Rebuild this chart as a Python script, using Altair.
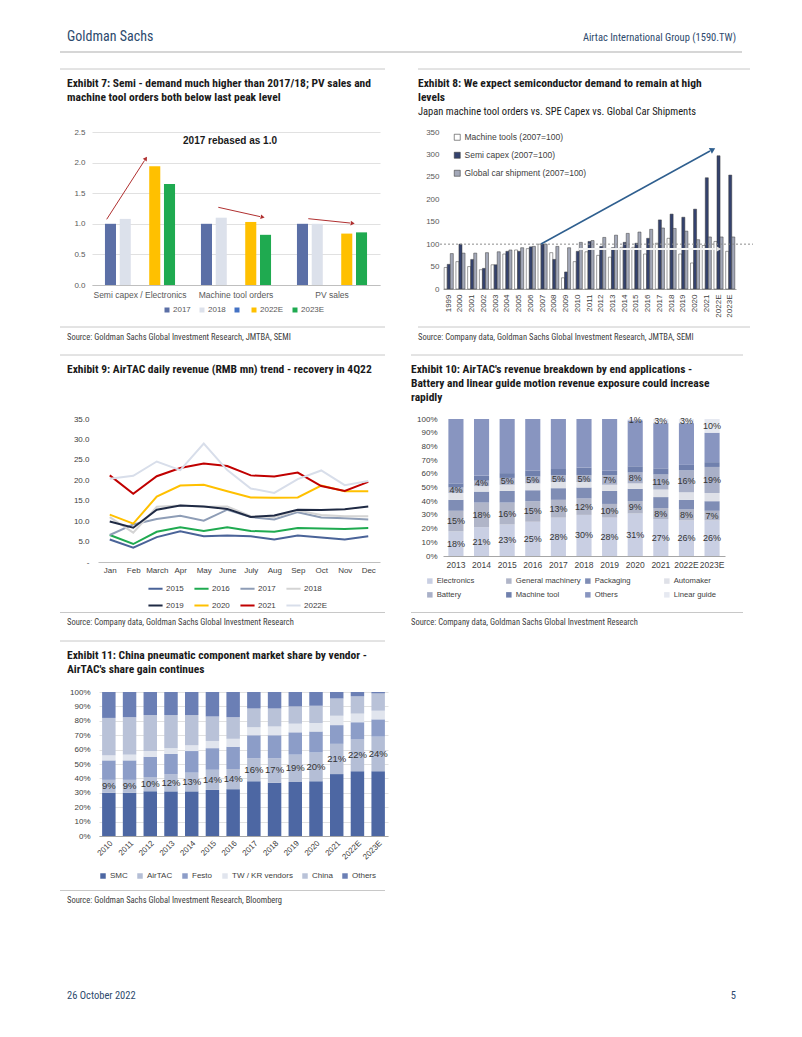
import altair as alt
import pandas as pd

ARIAL = "Liberation Sans, Arial, sans-serif"
NARROW = "Liberation Sans Narrow, Roboto Condensed, Roboto, sans-serif"
HEAD = "#2d4a6d"
INK = "#1a1a1a"
AX = "#595959"
RULE = "#c8c8c8"
SRC = "#404040"

# ---------------- Exhibit 7 data ----------------
e7_groups = ["Semi capex / Electronics", "Machine tool orders", "PV sales"]
e7_series = ["2017", "2018", " ", "2022E", "2023E"]
e7_colors = ["#5b6fa6", "#dce1eb", "#4472c4", "#ffc000", "#1faa50"]
e7_2017 = [1.00, 1.00, 1.00]
e7_2018 = [1.08, 1.10, 1.00]
e7_blank = [0.0, 0.0, 0.0]
e7_2022E = [1.94, 1.03, 0.84]
e7_2023E = [1.65, 0.82, 0.86]

# ---------------- Exhibit 8 data ----------------
e8_years = ["1999", "2000", "2001", "2002", "2003", "2004", "2005", "2006", "2007", "2008",
            "2009", "2010", "2011", "2012", "2013", "2014", "2015", "2016", "2017", "2018",
            "2019", "2020", "2021", "2022E", "2023E"]
e8_series = ["Machine tools (2007=100)", "Semi capex (2007=100)", "Global car shipment (2007=100)"]
e8_colors = ["#ffffff", "#34426e", "#a3a8b8"]
e8_machine = [48, 61, 50, 43, 54, 78, 87, 90, 100, 81, 25, 61, 83, 75, 71, 93, 93, 78, 102, 113, 78, 58, 97, 106, 84]
e8_semi = [55, 100, 66, 46, 54, 84, 84, 94, 100, 66, 38, 84, 106, 95, 92, 104, 102, 113, 154, 167, 160, 178, 248, 297, 254]
e8_car = [79, 80, 80, 81, 83, 87, 92, 95, 100, 95, 92, 104, 108, 115, 120, 124, 127, 133, 136, 135, 129, 110, 116, 116, 116]

# ---------------- Exhibit 9 data ----------------
e9_months = ["Jan", "Feb", "March", "Apr", "May", "June", "July", "Aug", "Sep", "Oct", "Nov", "Dec"]
e9_years = ["2015", "2016", "2017", "2018", "2019", "2020", "2021", "2022E"]
e9_colors = ["#4a6398", "#1faa50", "#8e9db6", "#d4d4d4", "#1f2a44", "#ffc000", "#c00000", "#d8deea"]
e9_2015 = [5.5, 3.5, 6.1, 7.5, 6.3, 6.5, 6.3, 5.5, 6.5, 6.0, 5.5, 6.3]
e9_2016 = [6.6, 4.4, 7.4, 8.5, 7.6, 8.5, 7.6, 7.4, 8.3, 8.2, 8.1, 8.3]
e9_2017 = [6.6, 9.2, 10.5, 11.3, 10.1, 12.8, 11.0, 10.4, 12.2, 10.9, 10.7, 10.4]
e9_2018 = [11.0, 7.2, 13.5, 13.8, 13.5, 13.6, 11.2, 11.0, 12.6, 11.5, 11.2, 11.2]
e9_2019 = [9.9, 8.4, 12.8, 13.8, 13.6, 13.0, 11.0, 11.4, 12.8, 12.7, 12.9, 13.6]
e9_2020 = [11.6, 9.4, 16.0, 18.7, 18.9, 17.3, 15.8, 15.7, 15.8, 18.7, 17.3, 17.3]
e9_2021 = [21.2, 16.7, 21.0, 23.0, 24.1, 23.5, 21.2, 20.9, 21.9, 18.6, 17.4, 19.6]
e9_2022E = [20.4, 21.1, 24.6, 22.5, 29.0, 22.5, 18.0, 16.9, 20.3, 22.4, 18.8, 19.8]

# ---------------- Exhibit 10 data ----------------
e10_years = ["2013", "2014", "2015", "2016", "2017", "2018", "2019", "2020", "2021", "2022E", "2023E"]
e10_cats = ["Electronics", "General machinery", "Packaging", "Automaker",
            "Battery", "Machine tool", "Others", "Linear guide"]
e10_colors = ["#c9cfe3", "#b0b5c8", "#7f8db5", "#dfe1e8", "#a9b0c8", "#7080ad", "#8895c0", "#e6e9f1"]
e10_electronics = [18, 21, 23, 25, 28, 30, 28, 31, 27, 26, 26]
e10_general = [15, 18, 16, 15, 13, 12, 10, 9, 8, 8, 7]
e10_packaging = [8, 8, 8.5, 8, 8.5, 8, 9.5, 9, 8, 7, 7]
e10_automaker = [5, 4, 4.5, 5, 4.5, 4, 4.5, 4, 5.5, 5.5, 6]
e10_battery = [4, 4, 5, 5, 5, 5, 7, 8, 11, 16, 19]
e10_machine = [3, 3.5, 3.5, 4.5, 4.5, 5.5, 3.5, 4.5, 4.5, 4, 3.5]
e10_others = [47, 41.5, 39.5, 37.5, 36.5, 35.5, 37.5, 33.5, 33, 30.5, 21.5]
e10_linear = [0, 0, 0, 0, 0, 0, 0, 1, 3, 3, 10]
e10_labelled = ["Electronics", "General machinery", "Battery", "Linear guide"]

# ---------------- Exhibit 11 data ----------------
e11_years = ["2010", "2011", "2012", "2013", "2014", "2015", "2016", "2017", "2018", "2019",
             "2020", "2021", "2022E", "2023E"]
e11_cats = ["SMC", "AirTAC", "Festo", "TW / KR vendors", "China", "Others"]
e11_colors = ["#4d67a3", "#b4bed6", "#8c9dc8", "#e1e5ee", "#b9c2d8", "#6b7fb5"]
e11_smc = [30, 30, 31, 31, 31, 32, 32.5, 38, 37, 37.5, 38, 43, 45, 45]
e11_airtac = [9, 9, 10, 12, 13, 14, 14, 16, 17, 19, 20, 21, 22, 24]
e11_festo = [13.5, 13.5, 14, 14, 15, 15, 15.5, 16, 16, 15.5, 14.5, 13, 12, 12]
e11_twkr = [3.5, 4, 4, 4, 4, 5, 5.5, 5.5, 6, 6, 6, 6.5, 6, 6]
e11_china = [26, 26, 25, 23, 21, 17, 15, 13, 12.5, 12, 12, 12, 12, 12]
e11_others = [18, 17.5, 16, 16, 16, 17, 17.5, 11.5, 11.5, 10, 9.5, 4.5, 3, 1]

# ---------------- helpers ----------------
ONE = pd.DataFrame({"k": [0]})


def txt(x, y, s, size=9, weight="normal", color=INK, align="left", font=ARIAL):
    return alt.Chart(ONE).mark_text(
        align=align, baseline="middle", fontSize=size, fontWeight=weight, color=color, font=font
    ).encode(x=alt.value(x), y=alt.value(y), text=alt.value(s))


def seg(x1, y1, x2, y2, color=RULE, w=1.0, opacity=1.0, dash=None):
    kw = dict(color=color, strokeWidth=w, opacity=opacity)
    if dash:
        kw["strokeDash"] = dash
    return alt.Chart(ONE).mark_rule(**kw).encode(
        x=alt.value(x1), y=alt.value(y1), x2=alt.value(x2), y2=alt.value(y2))


def head(x, y, angle, color, size=22):
    return alt.Chart(ONE).mark_point(
        shape="triangle", filled=True, size=size, angle=angle, color=color, opacity=1
    ).encode(x=alt.value(x), y=alt.value(y))


def title_t(x, y, s):
    return txt(x, y, s, size=11.5, weight="bold", color=INK, font=NARROW)


def src_t(x, y, s):
    return txt(x, y, s, size=8.5, color=SRC, font=NARROW)


# ---------------- Exhibit 7 ----------------
df7 = pd.DataFrame([
    {"group": g, "s7": s, "v7": vals[i]}
    for s, vals in zip(e7_series, [e7_2017, e7_2018, e7_blank, e7_2022E, e7_2023E])
    for i, g in enumerate(e7_groups)
])
bars7 = alt.Chart(df7).mark_bar().encode(
    x=alt.X("group:N", sort=e7_groups, title=None,
            scale=alt.Scale(paddingInner=0.27, paddingOuter=0.135),
            axis=alt.Axis(labelAngle=0, ticks=False, domainColor="#bfbfbf", labelFont=ARIAL,
                          labelFontSize=8.5, labelColor=AX, labelPadding=5)),
    xOffset=alt.XOffset("s7:N", sort=e7_series, scale=alt.Scale(paddingInner=0.25, paddingOuter=0)),
    y=alt.Y("v7:Q", title=None, scale=alt.Scale(domain=[0, 2.5]),
            axis=alt.Axis(values=[0, 0.5, 1, 1.5, 2, 2.5], format=".1f", domain=False, ticks=False,
                          grid=True, gridColor="#d9d9d9", gridWidth=0.8, labelFont=ARIAL,
                          labelFontSize=8, labelColor=AX, labelPadding=7)),
    color=alt.Color("s7:N", sort=e7_series, scale=alt.Scale(domain=e7_series, range=e7_colors),
                    legend=alt.Legend(title=None, orient="none", legendX=71, legendY=174,
                                      direction="horizontal", symbolType="square", symbolSize=25,
                                      symbolStrokeWidth=0, labelFont=ARIAL, labelFontSize=8,
                                      labelColor=AX, labelOffset=2, columnPadding=7)),
)
RED = "#b03030"
p7 = alt.layer(
    seg(-84, -124, -83, -124, opacity=0),
    txt(-25, -95, "Goldman Sachs", size=14, color=HEAD, font=NARROW),
    txt(644, -94, "Airtac International Group (1590.TW)", size=10.5, color=HEAD, font=NARROW, align="right"),
    seg(-32, -80, 650, -80, RULE, 1.5),
    seg(-32, -63, 293, -63, RULE, 1),
    title_t(-25, -48, "Exhibit 7: Semi - demand much higher than 2017/18; PV sales and"),
    title_t(-25, -34, "machine tool orders both below last peak level"),
    bars7,
    txt(138, 9, "2017 rebased as 1.0", size=10, weight="bold", align="center"),
    seg(14.7, 87.3, 52.5, 28.5, RED, 1),
    head(53.5, 27, 33, RED),
    seg(126.3, 75.3, 168, 84.6, RED, 1),
    head(170, 85, 102, RED),
    seg(216.3, 86.7, 258, 91, RED, 1),
    head(260, 91.2, 96, RED),
    seg(-32, 195, 293, 195, RULE, 1),
    src_t(-25, 205, "Source: Goldman Sachs Global Investment Research, JMTBA, SEMI"),
).properties(width=288, height=153)

# ---------------- Exhibit 8 ----------------
df8 = pd.DataFrame([
    {"yr8": y, "s8": s, "v8": vals[i]}
    for s, vals in zip(e8_series, [e8_machine, e8_semi, e8_car])
    for i, y in enumerate(e8_years)
])
Y8_AXIS = alt.Axis(values=list(range(0, 351, 50)), grid=False, domain=False, ticks=False,
                   labelOverlap=False, labelFont=ARIAL, labelFontSize=8, labelColor=AX,
                   labelPadding=4)
Y8_SCALE = alt.Scale(domain=[0, 350])
bars8 = alt.Chart(df8).mark_bar(stroke="#3c3c3c", strokeWidth=0.5).encode(
    x=alt.X("yr8:N", sort=e8_years, title=None,
            scale=alt.Scale(paddingInner=0.22, paddingOuter=0.1),
            axis=alt.Axis(labelAngle=270, ticks=False, domainColor="#a6a6a6", labelFont=ARIAL,
                          labelFontSize=8, labelColor=SRC, labelPadding=5)),
    xOffset=alt.XOffset("s8:N", sort=e8_series, scale=alt.Scale(paddingInner=0, paddingOuter=0)),
    y=alt.Y("v8:Q", title=None, scale=Y8_SCALE, axis=Y8_AXIS),
    color=alt.Color("s8:N", sort=e8_series, scale=alt.Scale(domain=e8_series, range=e8_colors),
                    legend=alt.Legend(title=None, orient="none", legendX=10, legendY=1,
                                      direction="vertical", symbolType="square", symbolSize=36,
                                      symbolStrokeColor="#3c3c3c", symbolStrokeWidth=0.6,
                                      labelFont=ARIAL, labelFontSize=8.5, labelColor=SRC,
                                      rowPadding=9, labelOffset=3)),
)
ref8 = alt.Chart(ONE).mark_rule(color="#8c8c8c", strokeWidth=1, strokeDash=[2, 2]).encode(
    y=alt.YDatum(100, title=None, scale=Y8_SCALE, axis=Y8_AXIS), x=alt.value(-3), x2=alt.value(310))
BLUE = "#2f5f8f"
p8 = alt.layer(
    seg(-25, -63, 307, -63, RULE, 1),
    title_t(-25, -48, "Exhibit 8: We expect semiconductor demand to remain at high"),
    title_t(-25, -34, "levels"),
    txt(-25, -20, "Japan machine tool orders vs. SPE Capex vs. Global Car Shipments", size=10.5, font=NARROW),
    bars8,
    ref8,
    seg(98, 112, 267, 19, BLUE, 1.5),
    head(269, 18, 61, BLUE, 40),
    seg(136, 117, 272, 117, "#f4f4f4", 2),
    head(275, 117, 90, "#e4e4e4", 30),
    seg(-25, 195, 307, 195, RULE, 1),
    src_t(-25, 205, "Source: Company data, Goldman Sachs Global Investment Research, JMTBA, SEMI"),
).properties(width=293, height=157)

# ---------------- Exhibit 9 ----------------
df9 = pd.DataFrame([
    {"month": m, "yr9": y, "v9": vals[i]}
    for y, vals in zip(e9_years, [e9_2015, e9_2016, e9_2017, e9_2018, e9_2019, e9_2020, e9_2021, e9_2022E])
    for i, m in enumerate(e9_months)
])
lines9 = alt.Chart(df9).mark_line(strokeWidth=2).encode(
    x=alt.X("month:N", sort=e9_months, title=None,
            scale=alt.Scale(type="point", range=[6, 288], padding=0.5),
            axis=alt.Axis(ticks=False, domainColor="#bfbfbf", labelAngle=0, labelFont=ARIAL,
                          labelFontSize=8, labelColor=SRC, labelPadding=4)),
    y=alt.Y("v9:Q", title=None, scale=alt.Scale(domain=[0, 35]),
            axis=alt.Axis(values=[0, 5, 10, 15, 20, 25, 30, 35],
                          labelExpr="datum.value == 0 ? '-' : format(datum.value, '.1f')",
                          grid=False, domain=False, ticks=False, labelOverlap=False, labelFont=ARIAL,
                          labelFontSize=8, labelColor=SRC, labelPadding=3)),
    color=alt.Color("yr9:N", sort=e9_years, scale=alt.Scale(domain=e9_years, range=e9_colors),
                    legend=alt.Legend(title=None, orient="none", legendX=55, legendY=161, columns=4,
                                      direction="horizontal",
                                      symbolType="stroke", symbolSize=200, symbolStrokeWidth=2,
                                      labelFont=ARIAL, labelFontSize=8, labelColor=SRC,
                                      labelOffset=2, columnPadding=6, rowPadding=4)),
)
p9 = alt.layer(
    seg(-32, -64, 293, -64, RULE, 1),
    title_t(-25, -49, "Exhibit 9: AirTAC daily revenue (RMB mn) trend - recovery in 4Q22"),
    lines9,
    seg(-32, 193.5, 293, 193.5, RULE, 1),
    src_t(-25, 203, "Source: Company data, Goldman Sachs Global Investment Research"),
).properties(width=295, height=143)

# ---------------- Exhibit 10 ----------------
e10_vals = [e10_electronics, e10_general, e10_packaging, e10_automaker,
            e10_battery, e10_machine, e10_others, e10_linear]
rows10, labs10 = [], []
for i, y in enumerate(e10_years):
    cum = 0.0
    for k, (c, vals) in enumerate(zip(e10_cats, e10_vals)):
        v = vals[i]
        rows10.append({"yr10": y, "c10": c, "o10": k, "v10": v})
        if c in e10_labelled and v > 0:
            labs10.append({"yr10": y, "m10": cum + v / 2.0, "l10": f"{v:g}%"})
        cum += v
df10 = pd.DataFrame(rows10)
dl10 = pd.DataFrame(labs10)
X10 = alt.X("yr10:N", sort=e10_years, title=None,
            scale=alt.Scale(paddingInner=0.41, paddingOuter=0.21),
            axis=alt.Axis(labelAngle=0, ticks=False, domainColor="#a6a6a6", labelFont=ARIAL,
                          labelFontSize=8.5, labelColor=SRC, labelPadding=4))
Y10 = alt.Axis(values=list(range(0, 101, 10)), labelExpr="datum.value + '%'", grid=False, domain=False,
               ticks=False, labelOverlap=False, labelFont=ARIAL, labelFontSize=8, labelColor=SRC,
               labelPadding=6)
bars10 = alt.Chart(df10).mark_bar().encode(
    x=X10,
    y=alt.Y("v10:Q", title=None, stack="zero", scale=alt.Scale(domain=[0, 100]), axis=Y10),
    color=alt.Color("c10:N", sort=e10_cats, scale=alt.Scale(domain=e10_cats, range=e10_colors),
                    legend=alt.Legend(title=None, orient="none", legendX=-17, legendY=158, columns=4,
                                      direction="horizontal",
                                      symbolType="square", symbolSize=30, symbolStrokeWidth=0,
                                      gridAlign="all", labelFont=ARIAL, labelFontSize=7.7,
                                      labelColor=SRC, labelOffset=3, columnPadding=3, rowPadding=5)),
    order=alt.Order("o10:Q", sort="ascending"),
)
text10 = alt.Chart(dl10).mark_text(fontSize=9, color="#333333", font=ARIAL).encode(
    x=X10,
    y=alt.Y("m10:Q", title=None, scale=alt.Scale(domain=[0, 100]), axis=Y10),
    text="l10:N",
)
p10 = alt.layer(
    seg(-32, -64, 300, -64, RULE, 1),
    title_t(-32, -49, "Exhibit 10: AirTAC's revenue breakdown by end applications -"),
    title_t(-32, -35, "Battery and linear guide motion revenue exposure could increase"),
    title_t(-32, -21, "rapidly"),
    bars10,
    text10,
    seg(-32, 193.5, 300, 193.5, RULE, 1),
    src_t(-32, 203, "Source: Company data, Goldman Sachs Global Investment Research"),
).properties(width=282, height=137)

# ---------------- Exhibit 11 ----------------
e11_vals = [e11_smc, e11_airtac, e11_festo, e11_twkr, e11_china, e11_others]
rows11, labs11 = [], []
for i, y in enumerate(e11_years):
    for k, (c, vals) in enumerate(zip(e11_cats, e11_vals)):
        rows11.append({"yr11": y, "c11": c, "o11": k, "v11": vals[i]})
    labs11.append({"yr11": y, "m11": e11_smc[i] + e11_airtac[i] / 2.0, "l11": f"{e11_airtac[i]:g}%"})
df11 = pd.DataFrame(rows11)
dl11 = pd.DataFrame(labs11)
X11 = alt.X("yr11:N", sort=e11_years, title=None,
            scale=alt.Scale(range=[7, 296], paddingInner=0.35, paddingOuter=0.15),
            axis=alt.Axis(labelAngle=315, ticks=False, domainColor="#a6a6a6", labelFont=ARIAL,
                          labelFontSize=8, labelColor=SRC, labelPadding=3))
Y11 = alt.Axis(values=list(range(0, 101, 10)), labelExpr="datum.value + '%'", grid=True,
               gridColor="#d9d9d9", gridWidth=0.8, domain=False, ticks=False, labelOverlap=False,
               labelFont=ARIAL, labelFontSize=8, labelColor=SRC, labelPadding=2)
bars11 = alt.Chart(df11).mark_bar().encode(
    x=X11,
    y=alt.Y("v11:Q", title=None, stack="zero", scale=alt.Scale(domain=[0, 100]), axis=Y11),
    color=alt.Color("c11:N", sort=e11_cats, scale=alt.Scale(domain=e11_cats, range=e11_colors),
                    legend=alt.Legend(title=None, orient="none", legendX=7, legendY=180,
                                      direction="horizontal", symbolType="square", symbolSize=30,
                                      symbolStrokeWidth=0, labelFont=ARIAL, labelFontSize=8,
                                      labelColor=SRC, labelOffset=3, columnPadding=8)),
    order=alt.Order("o11:Q", sort="ascending"),
)
text11 = alt.Chart(dl11).mark_text(fontSize=9.5, color="#333333", font=ARIAL).encode(
    x=X11,
    y=alt.Y("m11:Q", title=None, scale=alt.Scale(domain=[0, 100]), axis=Y11),
    text="l11:N",
)
p11 = alt.layer(
    seg(-32, -51, 293, -51, RULE, 1),
    title_t(-25, -36, "Exhibit 11: China pneumatic component market share by vendor -"),
    title_t(-25, -22, "AirTAC's share gain continues"),
    bars11,
    text11,
    seg(-32, 198.5, 293, 198.5, RULE, 1),
    src_t(-25, 208, "Source: Goldman Sachs Global Investment Research, Bloomberg"),
    txt(-25, 304, "26 October 2022", size=10.5, color=HEAD, font=NARROW),
    txt(644, 304, "5", size=10.5, color=HEAD, font=NARROW, align="right"),
).properties(width=296, height=144)

chart = alt.concat(
    p7, p8, p9, p10, p11,
    columns=2,
    spacing={"row": 130, "column": 55},
    bounds="flush",
    align={"row": "each", "column": "none"},
).resolve_scale(color="independent", xOffset="independent").properties(
    padding=0, background="white"
).configure_view(strokeWidth=0)

chart.save("out.html", embed_options={"renderer": "svg", "actions": False})
